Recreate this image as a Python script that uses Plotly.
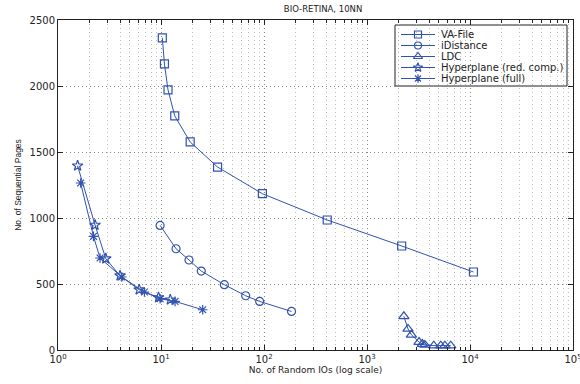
import plotly.graph_objects as go

va_x = [10.3, 10.8, 11.7, 13.6, 19.2, 35.4, 96.5, 411, 2170, 10800]
va_y = [2365, 2167, 1970, 1773, 1576, 1386, 1184, 985, 788, 591]

idist_x = [9.8, 14.0, 18.7, 24.6, 41.2, 66.4, 90.8, 185]
idist_y = [944, 767, 682, 598, 495, 411, 368, 292]

ldc_x = [2280, 2500, 2700, 3200, 3450, 3650, 4450, 5200, 5700, 6500]
ldc_y = [255, 160, 115, 60, 45, 38, 33, 33, 33, 33]

hred_x = [1.55, 2.29, 2.91, 4.0, 6.14, 9.46, 12.3]
hred_y = [1396, 947, 692, 563, 457, 398, 381]

hfull_x = [1.66, 2.21, 2.56, 4.16, 6.9, 9.8, 13.7, 25.4]
hfull_y = [1265, 861, 697, 553, 439, 388, 368, 305]

names = ["VA-File", "iDistance", "LDC", "Hyperplane (red. comp.)", "Hyperplane (full)"]
xtick_vals = [1, 10, 100, 1000, 10000, 100000]
xtick_text = ["10<sup>%d</sup>" % i for i in range(6)]
xminor_vals = [m * d for d in [1, 10, 100, 1000, 10000] for m in range(2, 10)]
ytick_vals = [0, 500, 1000, 1500, 2000, 2500]

W, H = 580, 384
L, R, T, B = 58, 7, 20, 34
PW, PH = W - L - R, H - T - B


def px(x):
    return (x - L) / PW


def py(y):
    return (H - B - y) / PH


col = "#3152b0"
dejavu = "DejaVu Sans, sans-serif"
lib = "Liberation Sans, Arial, sans-serif"
fig = go.Figure()
series = [
    (va_x, va_y, "square-open", 8),
    (idist_x, idist_y, "circle-open", 8),
    (ldc_x, ldc_y, "triangle-up-open", 9),
    (hred_x, hred_y, "star-open", 8),
    (hfull_x, hfull_y, "asterisk-open", 8),
]
for (x, y, sym, sz), nm in zip(series, names):
    fig.add_trace(go.Scatter(
        x=x, y=y, name=nm, mode="lines+markers", showlegend=False,
        line=dict(color=col, width=1),
        marker=dict(symbol=sym, size=sz, color=col, line=dict(color=col, width=1.2)),
    ))

# compact MATLAB-style legend
box_l, box_r, box_t, box_b = 395, 567, 25, 86
row_y = [34.5, 45.5, 56.5, 67.5, 78.5]
ln_x0, ln_x1, mk_x, tx_x = 401, 435, 418, 439
fig.add_shape(type="rect", xref="paper", yref="paper", layer="between",
              x0=px(box_l), x1=px(box_r), y0=py(box_b), y1=py(box_t),
              fillcolor="white", line=dict(color="#222", width=1))
for (x, y, sym, sz), nm, ry in zip(series, names, row_y):
    fig.add_shape(type="line", xref="paper", yref="paper", layer="above",
                  x0=px(ln_x0), x1=px(ln_x1), y0=py(ry), y1=py(ry),
                  line=dict(color=col, width=1))
    fig.add_trace(go.Scatter(
        x=[px(mk_x)], y=[py(ry)], xaxis="x2", yaxis="y2", mode="markers",
        showlegend=False, hoverinfo="skip", cliponaxis=False,
        marker=dict(symbol=sym, size=sz - 1, color=col, line=dict(color=col, width=1.2)),
    ))
    fig.add_annotation(x=px(tx_x), y=py(ry), xref="paper", yref="paper",
                       text=nm, showarrow=False, xanchor="left", yanchor="middle",
                       font=dict(family=dejavu, size=10, color="#222"))

dot = "1px,3px"
fig.update_layout(
    width=W, height=H,
    margin=dict(l=L, r=R, t=T, b=B),
    paper_bgcolor="white", plot_bgcolor="white",
    font=dict(family=dejavu, size=10, color="#222"),
    title=dict(text="BIO-RETINA, 10NN", x=0.557, xanchor="center", y=0.985, yanchor="top",
               font=dict(family=dejavu, size=8.5)),
    showlegend=False,
    xaxis=dict(
        type="log", range=[0, 5], automargin=False,
        tickvals=xtick_vals, ticktext=xtick_text, ticklabeloverflow="allow",
        ticks="inside", ticklen=5, tickcolor="#222",
        showline=True, linecolor="#222", linewidth=1, mirror="allticks",
        showgrid=True, gridcolor="#888", griddash=dot, gridwidth=1,
        minor=dict(tickvals=xminor_vals, ticks="inside", ticklen=3, tickcolor="#222",
                   showgrid=True, gridcolor="#bbbbbb", griddash=dot, gridwidth=1),
        title=dict(text="No. of Random IOs (log scale)", font=dict(family=dejavu, size=9),
                   standoff=2),
        zeroline=False, tickfont=dict(size=10),
    ),
    yaxis=dict(
        range=[0, 2500], tickvals=ytick_vals, automargin=False,
        ticks="inside", ticklen=5, tickcolor="#222",
        showline=True, linecolor="#222", linewidth=1, mirror="allticks",
        showgrid=True, gridcolor="#888", griddash=dot, gridwidth=1,
        title=dict(text="No. of Sequential Pages", font=dict(family=lib, size=8.5), standoff=6),
        zeroline=False, tickfont=dict(size=10),
    ),
    xaxis2=dict(overlaying="x", range=[0, 1], visible=False, fixedrange=True),
    yaxis2=dict(overlaying="y", range=[0, 1], visible=False, fixedrange=True),
)
fig.write_html("out.html")
